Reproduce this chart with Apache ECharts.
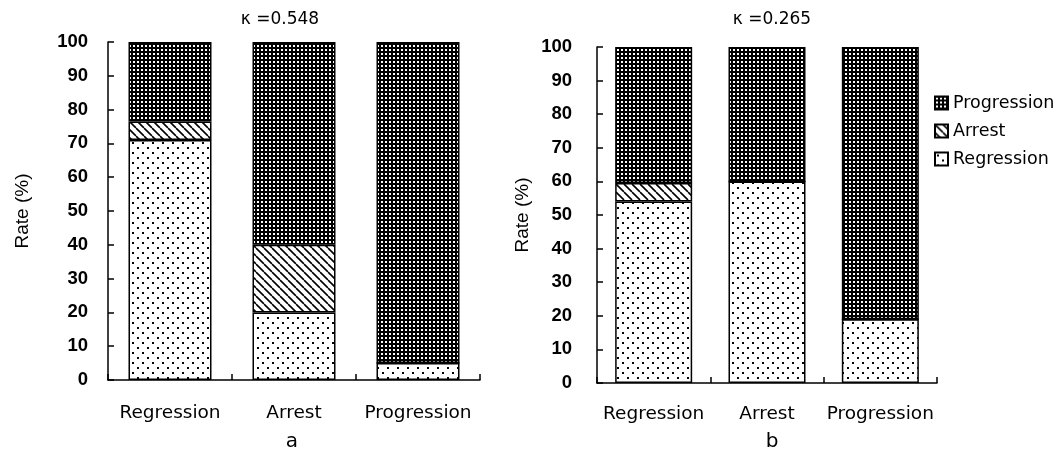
<!DOCTYPE html>
<html><head><meta charset="utf-8">
<script src="https://cdn.jsdelivr.net/npm/echarts@6/dist/echarts.min.js"></script>
<style>html,body{margin:0;padding:0;background:#fff}#c{width:1059px;height:461px}</style>
</head><body><div id="c"></div>
<script>
const categories = ['Regression', 'Arrest', 'Progression'];
const seriesNames = ['Regression', 'Arrest', 'Progression'];
// panel a (kappa = 0.548)
const aRegression = [71, 20, 5];
const aArrest = [5.5, 20, 0];
const aProgression = [23.5, 60, 95];
// panel b (kappa = 0.265)
const bRegression = [54, 60, 19];
const bArrest = [5.5, 0, 0];
const bProgression = [40.5, 40, 81];
const yTicks = [0, 10, 20, 30, 40, 50, 60, 70, 80, 90, 100];
const titleA = 'κ =0.548';
const titleB = 'κ =0.265';
const panelA = 'a';
const panelB = 'b';
const yName = 'Rate (%)';

function makeTile(w, h, draw) {
  const c = document.createElement('canvas');
  c.width = w; c.height = h;
  const ctx = c.getContext('2d');
  draw(ctx, w, h);
  return { image: c, repeat: 'repeat' };
}
const patDots = makeTile(10, 10, (ctx, w, h) => {
  ctx.fillStyle = '#fff'; ctx.fillRect(0, 0, w, h);
  ctx.fillStyle = '#000';
  ctx.fillRect(2, 2, 2, 2);
  ctx.fillRect(7, 7, 2, 2);
});
const patHatch = makeTile(8, 8, (ctx, w, h) => {
  ctx.fillStyle = '#fff'; ctx.fillRect(0, 0, w, h);
  ctx.strokeStyle = '#000'; ctx.lineWidth = 1.6;
  for (const o of [-8, 0, 8]) {
    ctx.beginPath(); ctx.moveTo(o, 0); ctx.lineTo(o + 8, 8); ctx.stroke();
  }
});
const patDark = makeTile(4, 4, (ctx, w, h) => {
  ctx.fillStyle = '#000'; ctx.fillRect(0, 0, w, h);
  ctx.fillStyle = '#fff';
  ctx.fillRect(1, 1, 2, 2);
});
const patterns = [patDots, patHatch, patDark];

const font = 'DejaVu Sans';
const numFont = 'Liberation Sans';
const chart = echarts.init(document.getElementById('c'), null, { renderer: 'canvas' });

function yAxis(gridIndex, nameGap, labelMargin) {
  return {
    type: 'value', gridIndex, min: 0, max: 100, interval: 10,
    name: yName, nameLocation: 'middle', nameRotate: 90, nameGap,
    nameTextStyle: { fontFamily: numFont, fontSize: 19, color: '#000' },
    axisLine: { show: true, lineStyle: { color: '#000', width: 1.5 } },
    axisTick: { show: true, inside: true, length: 6, lineStyle: { color: '#000', width: 1.5 } },
    axisLabel: { fontFamily: numFont, fontSize: 18.5, fontWeight: 'bold', color: '#000', margin: labelMargin,
      formatter: v => String(yTicks.includes(v) ? v : '') },
    splitLine: { show: false }
  };
}
function xAxis(gridIndex, margin) {
  return {
    type: 'category', gridIndex, data: categories, boundaryGap: true,
    axisLine: { show: true, lineStyle: { color: '#000', width: 1.5 } },
    axisTick: { show: true, inside: true, length: 6, alignWithLabel: false, lineStyle: { color: '#000', width: 1.5 } },
    axisLabel: { interval: 0, fontFamily: font, fontSize: 18.5, color: '#000', margin }
  };
}
function bars(idx, datas, barWidth) {
  return datas.map((d, i) => ({
    name: seriesNames[i], type: 'bar', stack: 's' + idx,
    xAxisIndex: idx, yAxisIndex: idx, data: d, barWidth,
    itemStyle: { color: patterns[i], borderColor: '#000', borderWidth: 1.5 },
    emphasis: { disabled: true }
  }));
}

chart.setOption({
  animation: false,
  backgroundColor: '#fff',
  title: [
    { text: titleA, left: 275, top: 6, textAlign: 'center', textStyle: { fontFamily: font, fontSize: 17, fontWeight: 'normal', color: '#000' } },
    { text: titleB, left: 767, top: 6, textAlign: 'center', textStyle: { fontFamily: font, fontSize: 17, fontWeight: 'normal', color: '#000' } },
    { text: panelA, left: 287, top: 427, textAlign: 'center', textStyle: { fontFamily: font, fontSize: 20, fontWeight: 'normal', color: '#000' } },
    { text: panelB, left: 767, top: 427, textAlign: 'center', textStyle: { fontFamily: font, fontSize: 20, fontWeight: 'normal', color: '#000' } }
  ],
  legend: {
    data: ['Progression', 'Arrest', 'Regression'],
    orient: 'vertical', left: 929, top: 89, itemGap: 10,
    itemWidth: 13, itemHeight: 13, icon: 'rect',
    textStyle: { fontFamily: font, fontSize: 17.5, lineHeight: 18, color: '#000' }
  },
  grid: [
    { left: 108, right: 579, top: 42, bottom: 81 },
    { left: 597, right: 122, top: 47, bottom: 78 }
  ],
  xAxis: [xAxis(0, 24), xAxis(1, 22)],
  yAxis: [yAxis(0, 76, 20), yAxis(1, 65, 25)],
  series: [
    ...bars(0, [aRegression, aArrest, aProgression], 83),
    ...bars(1, [bRegression, bArrest, bProgression], 77)
  ]
});
</script></body></html>
